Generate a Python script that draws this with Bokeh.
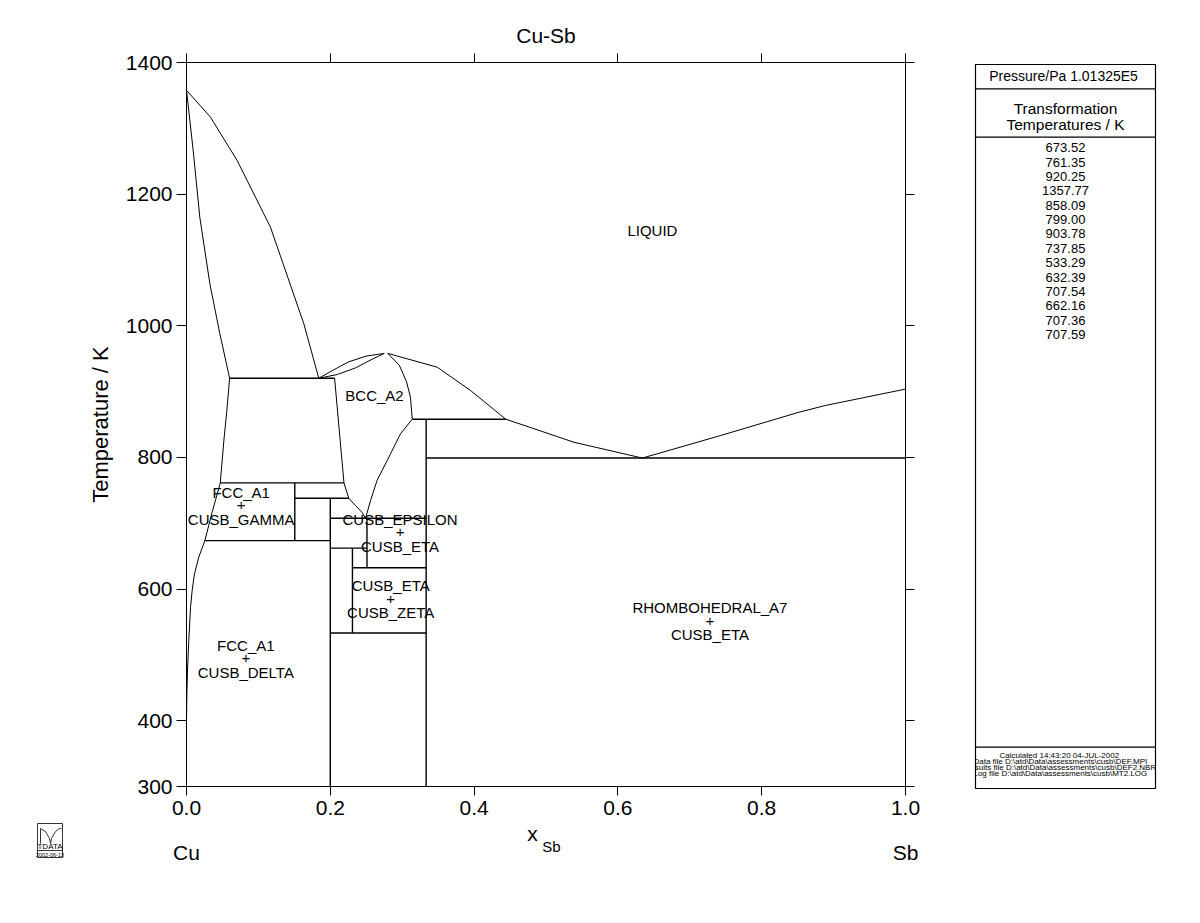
from bokeh.plotting import figure
from bokeh.models import Range1d, LinearAxis, FixedTicker, PrintfTickFormatter, Title
from bokeh.layouts import row, column
from bokeh.embed import file_html
from bokeh.resources import INLINE
from bokeh.core.properties import value

FONT = "Liberation Sans"

# ---------------- data ----------------
# Cu-rich liquidus and solidus (FCC_A1)
liq_cu_x = [0.0, 0.0334, 0.0705, 0.1168, 0.1632, 0.184]
liq_cu_T = [1357.77, 1316.9, 1251.0, 1149.8, 1003.0, 920.25]
sol_cu_x = [0.0, 0.0093, 0.0185, 0.0325, 0.0464, 0.060]
sol_cu_T = [1357.77, 1266.3, 1165.0, 1063.7, 987.8, 920.25]
# FCC_A1 solvus
fcc_solv_x = [0.060, 0.056, 0.052, 0.047, 0.0357, 0.0255, 0.0171, 0.0111, 0.0079, 0.0056, 0.0032, 0.0015, 0.0005, 0.0]
fcc_solv_T = [920.25, 870.0, 826.0, 761.35, 716.8, 673.52, 648.5, 623.0, 598.0, 572.0, 522.0, 480.0, 440.0, 400.0]
# BCC_A2 congruent maximum: liquidus and solidus on the Cu side
bcc_liq_l_x = [0.184, 0.203, 0.225, 0.250, 0.275]
bcc_liq_l_T = [920.25, 932.0, 945.0, 954.0, 958.0]
bcc_sol_l_x = [0.184, 0.210, 0.235, 0.258, 0.275]
bcc_sol_l_T = [920.25, 926.0, 936.0, 949.0, 958.0]
# BCC_A2 on the Sb side
bcc_sol_r_x = [0.280, 0.296, 0.306, 0.3115, 0.314]
bcc_sol_r_T = [958.0, 940.0, 915.0, 891.5, 858.09]
liq_mid_x = [0.280, 0.3487, 0.395, 0.444]
liq_mid_T = [958.0, 937.1, 901.7, 858.09]
# liquidus towards the eutectic and Sb
liq_sb_x = [0.444, 0.539, 0.634, 0.743, 0.852, 0.889, 1.0]
liq_sb_T = [858.09, 823.0, 799.0, 833.3, 868.7, 879.0, 903.78]
# BCC_A2 lower boundaries
bcc_left_x = [0.206, 0.219, 0.2257, 0.235, 0.244, 0.249]
bcc_left_T = [920.25, 761.35, 737.85, 727.0, 716.8, 707.54]
bcc_right_x = [0.314, 0.2976, 0.279, 0.265, 0.256, 0.249]
bcc_right_T = [858.09, 835.8, 795.0, 765.0, 734.6, 707.54]
# invariant (horizontal) lines
inv_T = [920.25, 858.09, 799.00, 761.35, 737.85, 707.54, 673.52, 662.16, 632.39, 533.29]
inv_x0 = [0.060, 0.314, 0.3333, 0.047, 0.1506, 0.200, 0.0255, 0.200, 0.2308, 0.200]
inv_x1 = [0.206, 0.444, 1.0, 0.219, 0.2257, 0.3333, 0.200, 0.251, 0.3333, 0.3333]
# stoichiometric phases (vertical lines)
vert_x = [0.1506, 0.200, 0.2308, 0.251, 0.3333]
vert_T0 = [761.35, 737.85, 662.16, 707.54, 858.09]
vert_T1 = [673.52, 300.0, 533.29, 632.39, 300.0]

# two-phase labels
lab_top = ["FCC_A1", "CUSB_EPSILON", "CUSB_ETA", "FCC_A1", "RHOMBOHEDRAL_A7"]
lab_bot = ["CUSB_GAMMA", "CUSB_ETA", "CUSB_ZETA", "CUSB_DELTA", "CUSB_ETA"]
lab_x = [0.076, 0.297, 0.284, 0.0825, 0.728]
lab_T = [727.0, 686.0, 585.0, 495.0, 552.0]
single_lab = ["LIQUID", "BCC_A2"]
single_x = [0.648, 0.2615]
single_T = [1145.0, 894.0]

x_ticks = [0.0, 0.2, 0.4, 0.6, 0.8, 1.0]
y_ticks = [300, 400, 600, 800, 1000, 1200, 1400]

trans_T = [673.52, 761.35, 920.25, 1357.77, 858.09, 799.00, 903.78, 737.85,
           533.29, 632.39, 707.54, 662.16, 707.36, 707.59]
footer_lines = [
    "Calculated  14:43:20  04-JUL-2002",
    "Data file  D:\\atd\\Data\\assessments\\cusb\\DEF.MPI",
    "Results file  D:\\atd\\Data\\assessments\\cusb\\DEF2.NBR",
    "Log file  D:\\atd\\Data\\assessments\\cusb\\MT2.LOG",
]

# ---------------- main diagram ----------------
MAIN_H = 822
p = figure(width=940, height=MAIN_H, x_range=Range1d(0, 1), y_range=Range1d(300, 1400),
           output_backend="svg", toolbar_location=None, title=None,
           min_border_left=186, min_border_right=35, min_border_top=62,
           min_border_bottom=MAIN_H - 786)
p.frame_align = False
p.grid.visible = False
p.outline_line_color = "black"

p.xaxis.ticker = FixedTicker(ticks=x_ticks)
p.xaxis.formatter = PrintfTickFormatter(format="%.1f")
p.yaxis.ticker = FixedTicker(ticks=y_ticks)
p.yaxis.axis_label = "Temperature / K"

top = LinearAxis(ticker=FixedTicker(ticks=x_ticks))
right = LinearAxis(ticker=FixedTicker(ticks=y_ticks))
p.add_layout(top, "above")
p.add_layout(right, "right")
p.add_layout(Title(text="Cu-Sb", align="center", text_font=FONT, text_font_size="21px",
                   text_font_style="normal", text_color="black", standoff=13), "above")

for ax in p.axis:
    ax.major_tick_in = 0
    ax.major_tick_out = 9
    ax.minor_tick_in = 0
    ax.minor_tick_out = 0
    ax.axis_line_color = "black"
    ax.major_tick_line_color = "black"
    ax.major_label_text_font = FONT
    ax.major_label_text_font_size = "21px"
    ax.major_label_text_color = "black"
    ax.axis_label_text_font = FONT
    ax.axis_label_text_font_size = "22px"
    ax.axis_label_text_font_style = "normal"
    ax.axis_label_text_color = "black"
p.yaxis[0].major_tick_out = 10
p.yaxis[0].major_label_standoff = 4
p.yaxis[0].axis_label_standoff = 10
p.xaxis[0].major_label_standoff = 2
for ax in (top, right):
    ax.major_label_text_font_size = "1px"
    ax.major_label_text_color = None
    ax.major_label_standoff = 0

LW = 1.0
curves = [(liq_cu_x, liq_cu_T), (sol_cu_x, sol_cu_T), (fcc_solv_x, fcc_solv_T),
          (bcc_liq_l_x, bcc_liq_l_T), (bcc_sol_l_x, bcc_sol_l_T),
          (bcc_sol_r_x, bcc_sol_r_T), (liq_mid_x, liq_mid_T), (liq_sb_x, liq_sb_T),
          (bcc_left_x, bcc_left_T), (bcc_right_x, bcc_right_T)]
for cx, cy in curves:
    p.line(cx, cy, line_color="black", line_width=LW)

p.segment(x0=inv_x0, y0=inv_T, x1=inv_x1, y1=inv_T, line_color="black", line_width=1.4)
p.segment(x0=vert_x, y0=vert_T0, x1=vert_x, y1=vert_T1, line_color="black", line_width=1.4)

txt = dict(text_font=value(FONT), text_font_size="15px", text_align="center",
           text_baseline="middle", text_color="black")
p.text(x=lab_x, y=lab_T, text=["+"] * len(lab_x), **txt)
p.text(x=lab_x, y=lab_T, text=lab_top, y_offset=-13, **txt)
p.text(x=lab_x, y=lab_T, text=lab_bot, y_offset=14, **txt)
p.text(x=single_x, y=single_T, text=single_lab, **txt)

# ---------------- strip below the diagram (element names, axis name, logo) ----------------
STRIP_H = 923 - MAIN_H
s = figure(width=940, height=STRIP_H, x_range=Range1d(0, 940), y_range=Range1d(STRIP_H, 0),
           output_backend="svg", toolbar_location=None, title=None,
           min_border_left=0, min_border_right=0, min_border_top=0, min_border_bottom=0)
s.frame_align = False
s.axis.visible = False
s.grid.visible = False
s.outline_line_color = None
stxt = dict(text_font=value(FONT), text_color="black", text_baseline="middle")
oy = MAIN_H
s.text(x=[186, 905], y=[852 - oy, 852 - oy], text=["Cu", "Sb"], text_font_size="21px",
       text_align="center", **stxt)
s.text(x=[532], y=[833 - oy], text=["x"], text_font_size="21px", text_align="center", **stxt)
s.text(x=[551], y=[846 - oy], text=["Sb"], text_font_size="15px", text_align="center", **stxt)
# logo
s.quad(left=[37], right=[62], top=[823 - oy], bottom=[857 - oy], fill_color=None,
       line_color="black", line_width=0.8)
s.segment(x0=[37], y0=[850 - oy], x1=[62], y1=[850 - oy], line_color="black", line_width=0.8)
s.line(x=[40, 40, 45, 49, 50], y=[843 - oy, 828 - oy, 831 - oy, 838 - oy, 843 - oy],
       line_color="black", line_width=0.8)
s.line(x=[50, 51, 55, 59, 61], y=[843 - oy, 838 - oy, 831 - oy, 828 - oy, 828 - oy],
       line_color="black", line_width=0.8)
s.text(x=[49.5], y=[845.5 - oy], text=["TDATA"], text_font_size="8px", text_align="center", **stxt)
s.text(x=[49.5], y=[854 - oy], text=["2002-06-13"], text_font_size="5.5px", text_align="center", **stxt)

# ---------------- side panel ----------------
q = figure(width=260, height=923, x_range=Range1d(0, 180), y_range=Range1d(724, 0),
           output_backend="svg", toolbar_location=None, title=None,
           min_border_left=35, min_border_right=45, min_border_top=64, min_border_bottom=135)
q.frame_align = False
q.axis.visible = False
q.grid.visible = False
q.outline_line_color = "black"
q.outline_line_width = 1.2

q.segment(x0=[0, 0, 0], y0=[24.3, 72.7, 682.7], x1=[180, 180, 180], y1=[24.3, 72.7, 682.7],
          line_color="black", line_width=1.2)
ptxt = dict(text_font=value(FONT), text_align="center", text_baseline="middle", text_color="black")
q.text(x=[90], y=[11.5], text=["Pressure/Pa  1.01325E5"], text_font_size="14px", **ptxt)
q.text(x=[90, 90], y=[43.5, 59.5], text=["Transformation", "Temperatures / K"],
       text_font_size="15.5px", **ptxt)
vals = ["%.2f" % t for t in trans_T]
q.text(x=[90] * len(vals), y=[83.3 + 14.36 * i for i in range(len(vals))], text=vals,
       text_font_size="13px", **ptxt)
q.text(x=[86] * 4, y=[691 + 6.0 * i for i in range(4)], text=footer_lines,
       text_font_size="8px", **ptxt)

layout = row(column(p, s), q)
open("out.html", "w").write(file_html(layout, INLINE))
